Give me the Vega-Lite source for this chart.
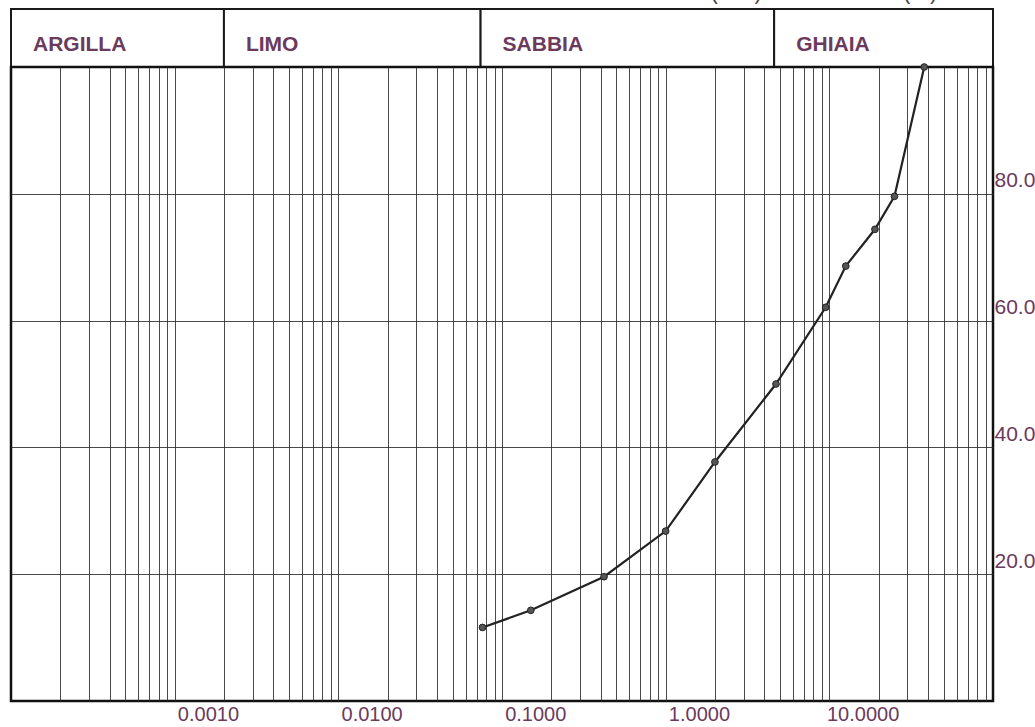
{
  "$schema": "https://vega.github.io/schema/vega-lite/v6.json",
  "background": "white",
  "padding": {"left": 9, "top": 0, "right": 5, "bottom": 0},
  "spacing": 0,
  "bounds": "flush",
  "config": {
    "font": "Liberation Sans",
    "view": {"stroke": null}
  },
  "vconcat": [
    {
      "width": 982,
      "height": 67,
      "data": {"values": [
        {"zona": "ARGILLA", "da": 0.00005, "a": 0.001},
        {"zona": "LIMO", "da": 0.001, "a": 0.037},
        {"zona": "SABBIA", "da": 0.037, "a": 2.3},
        {"zona": "GHIAIA", "da": 2.3, "a": 50}
      ]},
      "layer": [
        {
          "mark": {"type": "rect", "fill": "white", "stroke": "#1a1a1a", "strokeWidth": 2},
          "encoding": {
            "x": {"field": "da", "type": "quantitative", "scale": {"type": "log", "domain": [0.00005, 50], "nice": false}, "axis": null},
            "x2": {"field": "a"},
            "y": {"datum": 0, "type": "quantitative", "scale": {"domain": [0, 67], "nice": false}, "axis": null},
            "y2": {"datum": 58}
          }
        },
        {
          "mark": {"type": "text", "align": "left", "baseline": "middle", "dx": 22, "fontSize": 21, "fontWeight": "bold", "color": "#6b3a5c"},
          "encoding": {
            "x": {"field": "da", "type": "quantitative"},
            "y": {"datum": 22, "type": "quantitative"},
            "text": {"field": "zona"}
          }
        },
        {
          "data": {"values": [{"titolo": "DIAMETRO (mm) - PASSANTE (%)"}]},
          "mark": {"type": "text", "align": "center", "baseline": "bottom", "dy": 4, "fontSize": 22, "color": "#444444", "clip": true},
          "encoding": {
            "x": {"datum": 1.96, "type": "quantitative"},
            "y": {"datum": 67, "type": "quantitative"},
            "text": {"field": "titolo"}
          }
        }
      ]
    },
    {
      "width": 982,
      "height": 634,
      "view": {"stroke": "#111111", "strokeWidth": 2.5},
      "data": {"values": [
        {"diametro": 0.038, "passante": 11.6},
        {"diametro": 0.075, "passante": 14.3},
        {"diametro": 0.21, "passante": 19.6},
        {"diametro": 0.5, "passante": 26.8},
        {"diametro": 1.0, "passante": 37.7},
        {"diametro": 2.36, "passante": 50.0},
        {"diametro": 4.75, "passante": 62.1},
        {"diametro": 6.3, "passante": 68.6},
        {"diametro": 9.5, "passante": 74.4},
        {"diametro": 12.5, "passante": 79.6},
        {"diametro": 19, "passante": 100}
      ]},
      "encoding": {
        "x": {
          "field": "diametro", "type": "quantitative",
          "scale": {"type": "log", "domain": [0.00005, 50], "nice": false},
          "axis": {
            "title": null,
            "values": [0.0001, 0.00015, 0.0002, 0.00025, 0.0003, 0.00035, 0.0004, 0.00045, 0.0005,
                       0.001, 0.0015, 0.002, 0.0025, 0.003, 0.0035, 0.004, 0.0045, 0.005,
                       0.01, 0.015, 0.02, 0.025, 0.03, 0.035, 0.04, 0.045, 0.05,
                       0.1, 0.15, 0.2, 0.25, 0.3, 0.35, 0.4, 0.45, 0.5,
                       1, 1.5, 2, 2.5, 3, 3.5, 4, 4.5, 5,
                       10, 15, 20, 25, 30, 35, 40, 45],
            "labelExpr": "indexof([0.001, 0.01, 0.1, 1, 10], datum.value) >= 0 ? format(datum.value, '.4f') : ''",
            "labelOverlap": false,
            "labelFlush": false,
            "labelFontSize": 20,
            "labelColor": "#6b3a5c",
            "labelPadding": 3,
            "labelOffset": -16,
            "labelBaseline": "top",
            "domain": false,
            "ticks": false,
            "grid": true,
            "gridColor": "#2a2a2a",
            "gridWidth": 1,
            "gridOpacity": 0.85
          }
        },
        "y": {
          "field": "passante", "type": "quantitative",
          "scale": {"domain": [0, 100], "nice": false},
          "axis": {
            "title": null,
            "orient": "right",
            "values": [20, 40, 60, 80],
            "format": ".1f",
            "labelFontSize": 21,
            "labelColor": "#6b3a5c",
            "labelPadding": 1,
            "labelOffset": -13,
            "labelAlign": "left",
            "domain": false,
            "ticks": false,
            "grid": true,
            "gridColor": "#2a2a2a",
            "gridWidth": 1,
            "gridOpacity": 0.85
          }
        }
      },
      "layer": [
        {"mark": {"type": "line", "color": "#222222", "strokeWidth": 2.2}},
        {"mark": {"type": "point", "filled": true, "size": 45, "color": "#555555", "stroke": "#222222", "strokeWidth": 1, "opacity": 1}}
      ]
    }
  ]
}
